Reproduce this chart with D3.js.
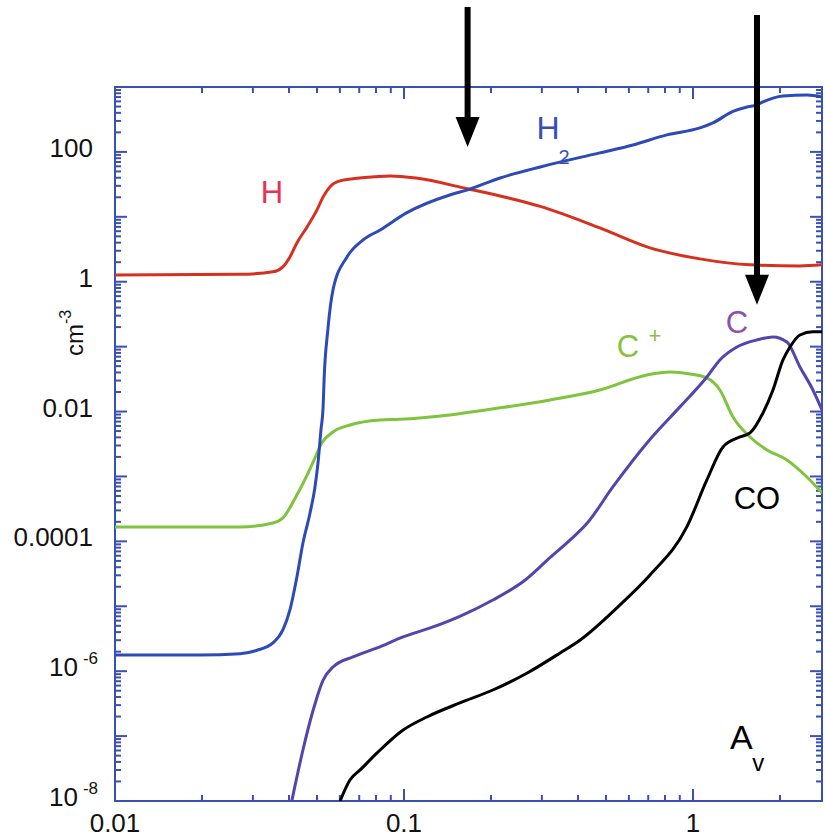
<!DOCTYPE html>
<html>
<head>
<meta charset="utf-8">
<script src="https://cdn.jsdelivr.net/npm/d3@7"></script>
<style>
html,body{margin:0;padding:0;background:#fff;}
svg{display:block;font-family:"Liberation Sans",Arial,sans-serif;}
</style>
</head>
<body>
<svg id="chart" width="825" height="839"></svg>
<script>
// ---- data (Av, density cm^-3) ----
const hData = [[0.01,1.27],[0.0271,1.30],[0.0352,1.42],[0.0381,1.69],[0.0403,2.41],[0.0426,3.96],[0.0462,6.99],[0.0500,12.8],[0.0525,20.3],[0.0554,28.9],[0.0586,34.5],[0.0666,38.5],[0.0800,41.5],[0.0895,42.5],[0.110,39.5],[0.166,27.0],[0.230,19.5],[0.296,14.5],[0.476,6.75],[0.710,3.32],[1.057,2.25],[1.575,1.82],[2.344,1.75],[2.795,1.82]];
const h2Data = [[0.01,1.78e-6],[0.0197,1.78e-6],[0.0271,1.86e-6],[0.0310,2.1e-6],[0.0352,2.72e-6],[0.0381,4.32e-6],[0.0403,8.77e-6],[0.0426,2.82e-5],[0.0447,9.44e-5],[0.0473,2.74e-4],[0.0492,6.89e-4],[0.0504,1.61e-3],[0.0516,5.21e-3],[0.0525,0.0118],[0.0529,0.0307],[0.0545,0.18],[0.0568,0.75],[0.0635,2.41],[0.0722,4.41],[0.0827,6.28],[0.102,11.5],[0.144,21.7],[0.166,26.0],[0.215,39.7],[0.296,58.7],[0.476,96.6],[0.620,128],[0.812,183],[1.057,234],[1.172,280],[1.375,420],[1.538,493],[1.665,530],[1.746,589],[2.048,729],[2.479,755],[2.795,703]];
const cpData = [[0.01,1.67e-4],[0.0271,1.67e-4],[0.0352,1.92e-4],[0.0381,2.30e-4],[0.0426,5.19e-4],[0.0462,1.05e-3],[0.0492,1.93e-3],[0.0520,3.3e-3],[0.0568,4.85e-3],[0.0650,6.2e-3],[0.0827,7.43e-3],[0.0969,7.6e-3],[0.144,8.87e-3],[0.215,0.0114],[0.320,0.0151],[0.476,0.0215],[0.693,0.0366],[0.832,0.0407],[0.977,0.038],[1.117,0.0329],[1.239,0.0215],[1.375,0.00826],[1.575,0.00406],[1.803,0.00256],[2.113,0.0018],[2.479,0.00098],[2.795,0.000557]];
const cData = [[0.0409,1.0e-8],[0.0447,6.11e-8],[0.0485,2.52e-7],[0.0525,7.31e-7],[0.0568,1.16e-6],[0.0666,1.66e-6],[0.0807,2.28e-6],[0.0993,3.37e-6],[0.126,4.8e-6],[0.156,7.0e-6],[0.203,1.25e-5],[0.260,2.45e-5],[0.320,5.6e-5],[0.380,1.1e-4],[0.430,1.9e-4],[0.528,6.89e-4],[0.693,3.28e-3],[0.901,0.0118],[1.117,0.0341],[1.239,0.0624],[1.419,0.0988],[1.665,0.127],[1.891,0.141],[2.113,0.118],[2.344,0.0487],[2.600,0.0215],[2.795,0.0106]];
const coData = [[0.0601,1.0e-8],[0.0650,2.11e-8],[0.0705,3.01e-8],[0.0807,5.50e-8],[0.0993,1.24e-7],[0.120,1.97e-7],[0.156,3.24e-7],[0.203,5.13e-7],[0.267,9.38e-7],[0.347,1.91e-6],[0.406,3.0e-6],[0.559,1.05e-5],[0.710,3.03e-5],[0.952,1.67e-4],[1.117,8.82e-4],[1.270,2.85e-3],[1.454,4.06e-3],[1.575,4.68e-3],[1.746,0.0095],[1.891,0.0215],[2.048,0.0624],[2.166,0.0988],[2.344,0.151],[2.600,0.169],[2.795,0.169]];

const yTickValues = [1e2,1,1e-2,1e-4,1e-6,1e-8];
const yTickLabels = [["100",""],["1",""],["0.01",""],["0.0001",""],["10","-6"],["10","-8"]];
const xTickValues = [0.01,0.1,1];
const xTickLabels = ["0.01","0.1","1"];
const arrowAv = [0.166,1.665];
const arrowTip = [119,0.44];

// ---- layout ----
const L=115, R=822, T=87, B=801;
const x = d3.scaleLog().domain([0.01,2.795]).range([L,R]);
const y = d3.scaleLog().domain([1e-8,1e3]).range([B,T]);
const svg = d3.select("#chart");
const axisColor = "#3b50b3";

svg.append("defs").append("clipPath").attr("id","clip")
  .append("rect").attr("x",L-4).attr("y",T).attr("width",R-L+4).attr("height",B-T);

// ticks
function minorTicks(scale){
  const [a,b]=scale.domain(); const out=[];
  for(let e=Math.floor(Math.log10(a));e<=Math.ceil(Math.log10(b));e++){
    for(let m=1;m<10;m++){const v=m*Math.pow(10,e); if(v>=a*0.999&&v<=b*1.001) out.push({v,major:m===1});}
  }
  return out;
}
const g = svg.append("g").attr("stroke",axisColor).attr("stroke-width",2);
minorTicks(y).forEach(t=>{
  const yy=y(t.v), len=t.major?12:6;
  g.append("line").attr("x1",L).attr("x2",L+len).attr("y1",yy).attr("y2",yy);
  g.append("line").attr("x1",R).attr("x2",R-len).attr("y1",yy).attr("y2",yy);
});
minorTicks(x).forEach(t=>{
  const xx=x(t.v), len=t.major?12:6;
  g.append("line").attr("x1",xx).attr("x2",xx).attr("y1",B).attr("y2",B-len);
  g.append("line").attr("x1",xx).attr("x2",xx).attr("y1",T).attr("y2",T+len);
});
g.append("rect").attr("x",L).attr("y",T).attr("width",R-L).attr("height",B-T).attr("fill","none");

// tick labels
const yl = svg.append("g").attr("font-size",26).attr("fill","#111").attr("text-anchor","end");
yTickValues.forEach((v,i)=>{
  const [base,sup]=yTickLabels[i];
  yl.append("text").attr("x",sup?78:93).attr("y",y(v)+5).text(base);
  if(sup){ yl.append("text").attr("x",98).attr("y",y(v)-7).attr("font-size",17).text(sup); }
});
const xl = svg.append("g").attr("font-size",26).attr("fill","#111").attr("text-anchor","middle");
xTickValues.forEach((v,i)=>{ xl.append("text").attr("x",x(v)).attr("y",832).text(xTickLabels[i]); });

// y axis title
const yt = svg.append("text").attr("transform","translate(83,356) rotate(-90)").attr("font-size",24).attr("fill","#111");
yt.append("tspan").text("cm");
yt.append("tspan").attr("dy",-12).attr("font-size",16).text("-3");

// curves
const line = d3.line().x(d=>x(d[0])).y(d=>y(d[1])).curve(d3.curveMonotoneX);
const curves = [
  {d:hData,c:"#d6301f"},
  {d:cpData,c:"#7ec43c"},
  {d:cData,c:"#5644ad"},
  {d:coData,c:"#000000"},
  {d:h2Data,c:"#2d4ab6"}
];
const cg = svg.append("g").attr("clip-path","url(#clip)");
curves.forEach(k=>cg.append("path").attr("d",line(k.d)).attr("fill","none").attr("stroke",k.c).attr("stroke-width",3).attr("stroke-linejoin","round"));

// arrows
const arrowTop=[7,15], headLen=[30,30];
arrowAv.forEach((av,i)=>{
  const ax=x(av), tip=y(arrowTip[i]);
  svg.append("line").attr("x1",ax).attr("x2",ax).attr("y1",arrowTop[i]).attr("y2",tip-headLen[i]+2)
    .attr("stroke","#000").attr("stroke-width",6);
  svg.append("path").attr("d",`M${ax-12},${tip-headLen[i]} L${ax+12},${tip-headLen[i]} L${ax},${tip} Z`).attr("fill","#000");
});

// labels
const lab = svg.append("g").attr("text-anchor","middle");
function label(av,n,txt,col,size,sub,subDx,subDy,subSize){
  lab.append("text").attr("x",x(av)).attr("y",y(n)+size*0.36).attr("font-size",size).attr("fill",col).text(txt);
  if(sub){ lab.append("text").attr("x",x(av)+subDx).attr("y",y(n)+size*0.36+subDy).attr("font-size",subSize).attr("fill",col).text(sub); }
}
label(0.0349,24.2,"H","#e3345a",31);
label(0.315,234,"H","#3a4fb5",32,"2",16,25,20);
label(0.596,0.103,"C","#82c43e",31,"+",27,-14,22);
label(1.42,0.24,"C","#8a50b2",31);
label(1.665,4.67e-4,"CO","#000",31);
label(1.47,9.6e-8,"A","#000",34,"v",17,22,24);
</script>
</body>
</html>
